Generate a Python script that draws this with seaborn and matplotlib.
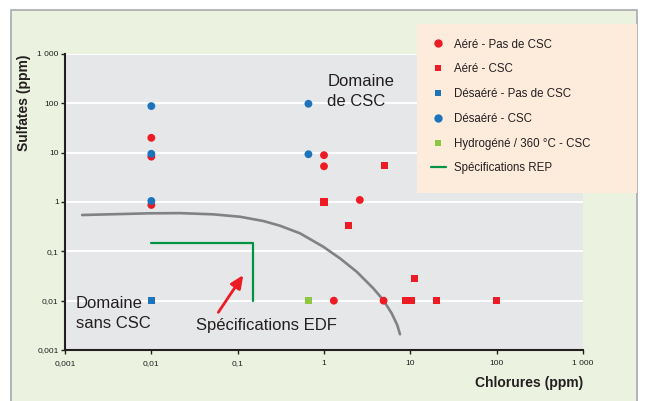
import numpy as np
import pandas as pd
import matplotlib
matplotlib.use("Agg")
import matplotlib.pyplot as plt
import seaborn as sns
from matplotlib.patches import Rectangle
from matplotlib.lines import Line2D

sns.set_style("white")
plt.rcParams['font.family'] = ['Liberation Sans', 'DejaVu Sans']

# ---- data ----
aere_pas_x = [0.01, 0.01, 0.01, 1.0, 1.0, 2.6, 1.3, 4.9]
aere_pas_y = [20, 8.3, 0.87, 8.9, 5.3, 1.1, 0.01, 0.01]

aere_csc_x = [5.0, 1.0, 1.9, 11.1, 8.8, 10.4, 20, 100]
aere_csc_y = [5.5, 1.0, 0.34, 0.028, 0.01, 0.01, 0.01, 0.01]

desaere_pas_x = [0.01]
desaere_pas_y = [0.01]

desaere_csc_x = [0.01, 0.01, 0.01, 0.66, 0.66]
desaere_csc_y = [88, 9.5, 1.05, 98, 9.3]

hydro_x = [0.66]
hydro_y = [0.01]

curve_x = [0.00158, 0.00966, 0.0215, 0.0522, 0.106, 0.198, 0.31, 0.527,
           0.98, 1.53, 2.39, 3.72, 4.86, 6.08, 7.06, 7.59]
curve_y = [0.545, 0.59, 0.595, 0.562, 0.503, 0.412, 0.33, 0.232,
           0.124, 0.0722, 0.0386, 0.0178, 0.0103, 0.00554, 0.0032, 0.00208]

rep_x = [0.01, 0.15, 0.15]
rep_y = [0.15, 0.15, 0.01]

arrow_from = (0.0597, 0.0058)
arrow_to = (0.116, 0.033)

tick_vals = [0.001, 0.01, 0.1, 1, 10, 100, 1000]
tick_labels = ["0,001", "0,01", "0,1", "1", "10", "100", "1 000"]

labels = ["Aéré - Pas de CSC", "Aéré - CSC", "Désaéré - Pas de CSC",
          "Désaéré - CSC", "Hydrogéné / 360 °C - CSC", "Spécifications REP"]

RED = "#ED1C24"
BLUE = "#1C75BC"
LGREEN = "#8DC63F"
DGREEN = "#009444"
GRAY = "#808285"
DARK = "#231F20"

# ---- figure ----
fig = plt.figure(figsize=(6.46, 4.01), dpi=100)
fig.patch.set_facecolor("white")
bg = Rectangle((11/646, -0.01), (637-11)/646, (401-10)/401 + 0.01,
               transform=fig.transFigure, facecolor="#EBF3E0",
               edgecolor="#A7A9AC", lw=1.2, zorder=-10)
fig.add_artist(bg)

ax = fig.add_axes([65/646, 1-350/401, 518/646, 296/401])
ax.set_facecolor("#E6E7E8")
ax.set_xscale("log")
ax.set_yscale("log")
ax.set_xlim(0.001, 1000)
ax.set_ylim(0.001, 1000)

series = [
    (aere_pas_x, aere_pas_y, "o", RED, 32),
    (aere_csc_x, aere_csc_y, "s", RED, 26),
    (desaere_pas_x, desaere_pas_y, "s", BLUE, 26),
    (desaere_csc_x, desaere_csc_y, "o", BLUE, 32),
    (hydro_x, hydro_y, "s", LGREEN, 26),
]

sns.lineplot(x=curve_x, y=curve_y, sort=False, estimator=None, color=GRAY,
             lw=1.9, ax=ax, zorder=2)
sns.lineplot(x=rep_x, y=rep_y, sort=False, estimator=None, color=DGREEN,
             lw=1.6, ax=ax, zorder=2)
for xs, ys, m, c, s in series:
    sns.scatterplot(x=xs, y=ys, marker=m, color=c, s=s, edgecolor="none",
                    linewidth=0, ax=ax, zorder=3, legend=False)

ax.annotate("", xy=arrow_to, xytext=arrow_from,
            arrowprops=dict(arrowstyle="-|>,head_length=0.55,head_width=0.25",
                            color=RED, lw=2, mutation_scale=14,
                            shrinkA=0, shrinkB=0))

ax.minorticks_off()
ax.set_xticks(tick_vals)
ax.set_xticklabels(tick_labels)
ax.set_yticks(tick_vals)
ax.set_yticklabels(tick_labels)
ax.minorticks_off()
ax.tick_params(axis="both", which="major", labelsize=6, length=3, width=1,
               color=DARK, labelcolor=DARK, direction="out")
ax.tick_params(axis="x", pad=4)
ax.tick_params(axis="y", pad=1.5)
ax.tick_params(left=True, bottom=True)

ax.yaxis.grid(True, color="white", lw=1.4)
ax.xaxis.grid(False)
ax.set_axisbelow(True)

for side in ["top", "right"]:
    ax.spines[side].set_visible(False)
for side in ["left", "bottom"]:
    ax.spines[side].set_color(DARK)
    ax.spines[side].set_linewidth(1.5)

ax.set_ylabel("Sulfates (ppm)", fontsize=10, fontweight="bold", color=DARK)
ax.yaxis.set_label_coords(-0.066, 0.834)
ax.set_xlabel("Chlorures (ppm)", fontsize=10, fontweight="bold", color=DARK,
              ha="right")
ax.xaxis.set_label_coords(1.0, -0.088)

ax.text(1.09, 400, "Domaine\nde CSC", fontsize=12, va="top", ha="left",
        color=DARK, linespacing=1.45)
ax.text(0.00134, 0.0125, "Domaine\nsans CSC", fontsize=12, va="top", ha="left",
        color=DARK, linespacing=1.45)
ax.text(0.0329, 0.00254, "Spécifications EDF", fontsize=12, va="baseline",
        ha="left", color=DARK)

# legend box
leg_bg = Rectangle((417/646, 1-193/401), (637-417)/646, (193-24)/401,
                   transform=fig.transFigure, facecolor="#FDEBDC",
                   edgecolor="none", zorder=1)
fig.add_artist(leg_bg)

handles = [
    Line2D([], [], marker="o", ls="none", color=RED, markersize=6, markeredgewidth=0),
    Line2D([], [], marker="s", ls="none", color=RED, markersize=5, markeredgewidth=0),
    Line2D([], [], marker="s", ls="none", color=BLUE, markersize=5, markeredgewidth=0),
    Line2D([], [], marker="o", ls="none", color=BLUE, markersize=6, markeredgewidth=0),
    Line2D([], [], marker="s", ls="none", color=LGREEN, markersize=5, markeredgewidth=0),
    Line2D([], [], color=DGREEN, lw=1.6),
]
leg = fig.legend(handles, labels, loc="upper left",
                 bbox_to_anchor=(430.7/646, 1-38.5/401), frameon=False,
                 fontsize=8.3, handlelength=1.35, handletextpad=0.7,
                 labelspacing=1.11, borderpad=0, borderaxespad=0)
for t in leg.get_texts():
    t.set_color(DARK)

fig.savefig("out.png", dpi=100, facecolor=fig.get_facecolor())
